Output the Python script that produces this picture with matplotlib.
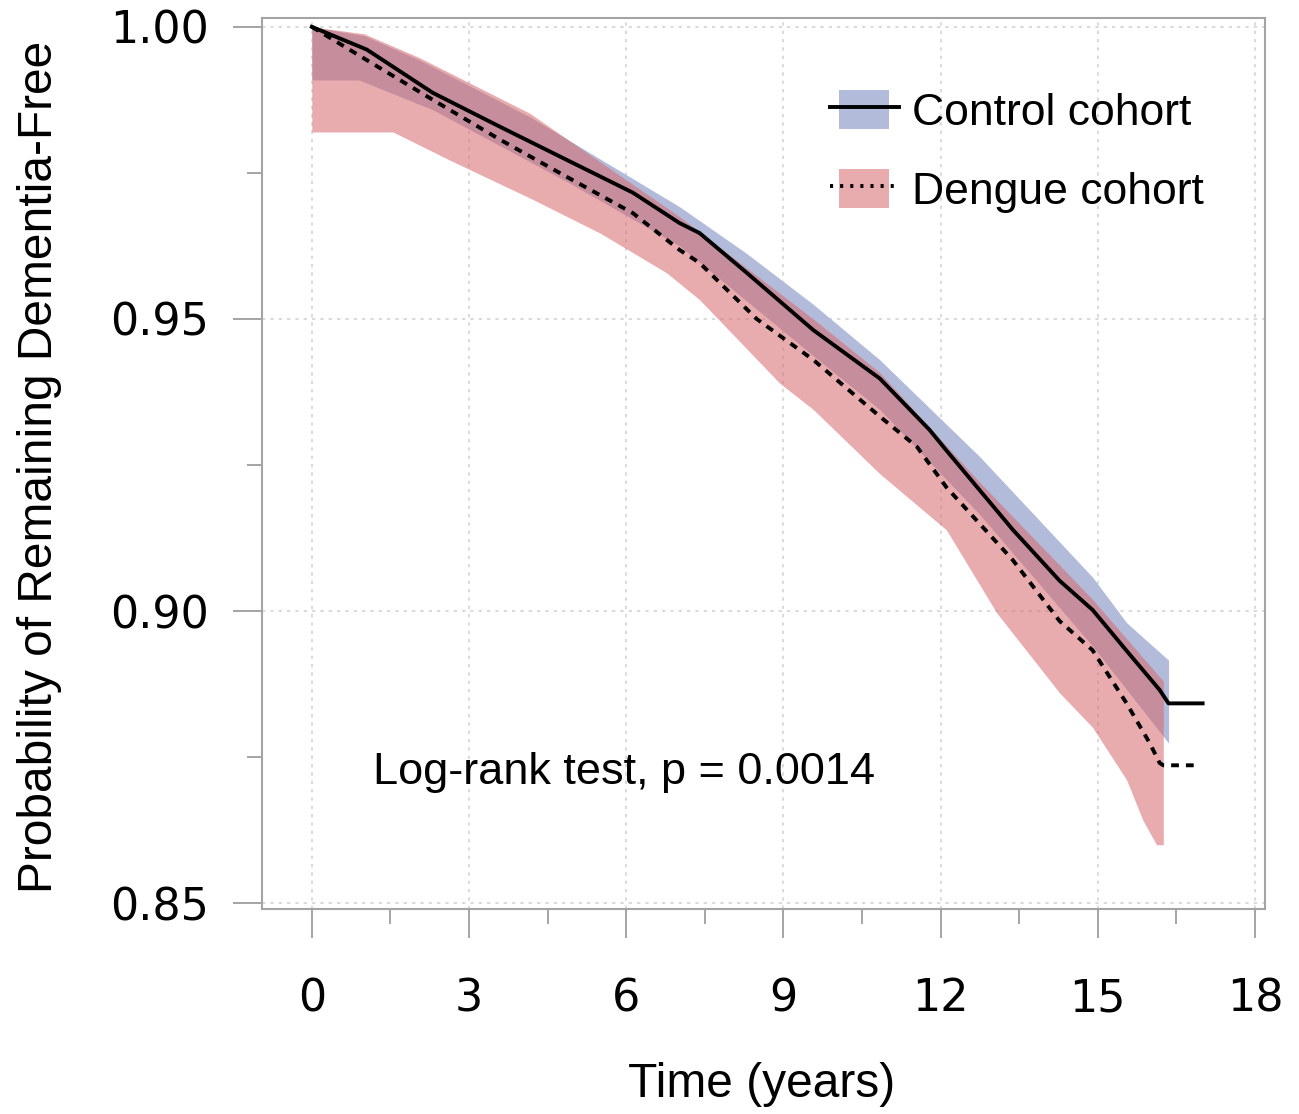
import matplotlib
matplotlib.use("Agg")
import numpy as np
import matplotlib.pyplot as plt
from matplotlib.ticker import MultipleLocator, FixedLocator
from matplotlib.patches import Patch, Rectangle
from matplotlib.lines import Line2D
from matplotlib.legend_handler import HandlerPatch, HandlerTuple

# Kaplan-Meier estimates
ctrl_t = [0, 1.05, 2.31, 3.59, 4.87, 6.13, 7.02, 7.40, 8.30, 9.57, 10.84,
          11.79, 12.11, 13.38, 14.27, 14.9, 15.55, 16.18, 16.35, 17.0]
ctrl_s = [1.0, 0.9961, 0.9887, 0.9829, 0.9772, 0.9716, 0.9664, 0.9647, 0.9579,
          0.9481, 0.9398, 0.931, 0.9275, 0.9139, 0.9052, 0.9002, 0.8932, 0.8865,
          0.8842, 0.8842]

deng_t = [0, 1.05, 2.31, 3.59, 4.87, 6.13, 7.02, 7.40, 8.49, 9.57, 10.84,
          11.55, 12.11, 13.38, 14.27, 14.9, 15.55, 15.99, 16.18, 16.25, 16.85]
deng_s = [1.0, 0.9943, 0.9875, 0.9807, 0.9743, 0.9681, 0.9618, 0.9596, 0.95,
          0.943, 0.9333, 0.9281, 0.9212, 0.9087, 0.8983, 0.8933, 0.8842, 0.8774,
          0.874, 0.8736, 0.8736]

# 95% confidence bands
ctrl_up_t = [0, 1.0, 2.06, 4.16, 7.02, 8.30, 9.57, 10.84, 12.75, 14.9, 15.55, 16.35]
ctrl_up = [1.0, 0.9985, 0.9943, 0.9846, 0.9692, 0.9612, 0.9525, 0.943, 0.9264,
           0.9058, 0.898, 0.8916]
ctrl_lo_t = [0, 0.9, 2.31, 4.87, 7.02, 9.57, 10.84, 12.75, 14.9, 16.35]
ctrl_lo = [0.9909, 0.9909, 0.9858, 0.9735, 0.9625, 0.9437, 0.9345, 0.9165, 0.894, 0.8774]

deng_up_t = [0, 1.0, 2.06, 4.16, 7.02, 9.57, 10.84, 12.75, 14.9, 16.25]
deng_up = [1.0, 0.9988, 0.9947, 0.9852, 0.9675, 0.9500, 0.9408, 0.922, 0.902, 0.888]
deng_lo_t = [0, 1.55, 2.63, 4.23, 5.5, 6.77, 7.40, 8.93, 9.57, 10.84, 12.11,
             13.07, 14.27, 14.9, 15.55, 15.86, 16.12, 16.25]
deng_lo = [0.982, 0.982, 0.9772, 0.9704, 0.9647, 0.9579, 0.9533, 0.939, 0.9345,
           0.9235, 0.9139, 0.8997, 0.886, 0.8801, 0.8711, 0.8642, 0.860, 0.860]

labels = ["Control cohort", "Dengue cohort"]
x_ticks = [0, 3, 6, 9, 12, 15, 18]
y_ticks = [0.85, 0.90, 0.95, 1.00]

BLUE = "#b2bcda"
PINK = (215 / 255, 104 / 255, 108 / 255)
GRAY = "#a4a4a4"


def merge(ta, a, tb, b):
    # common time grid for lower/upper bound
    t = np.union1d(ta, tb)
    t = t[t <= min(ta[-1], tb[-1])]
    return t, np.interp(t, ta, a), np.interp(t, tb, b)


fig = plt.figure(figsize=(12.99, 11.14), dpi=100)
ax = fig.add_axes([0.2017, 0.1840, 0.9738 - 0.2017, 0.9838 - 0.1840])

t, lo, up = merge(ctrl_lo_t, ctrl_lo, ctrl_up_t, ctrl_up)
ax.fill_between(t, lo, up, color=BLUE, lw=0, zorder=2)
t, lo, up = merge(deng_lo_t, deng_lo, deng_up_t, deng_up)
ax.fill_between(t, lo, up, color=PINK, alpha=0.55, lw=0, zorder=3)

ax.plot(ctrl_t, ctrl_s, color="black", lw=2.8, zorder=5)
ax.plot(deng_t, deng_s, color="black", lw=2.8, ls=(0, (2.0, 1.8)), zorder=5)

ax.set_xlim(-0.95, 18.19)
ax.set_ylim(0.849, 1.0015)
ax.xaxis.set_major_locator(FixedLocator(x_ticks))
ax.xaxis.set_minor_locator(MultipleLocator(1.5))
ax.yaxis.set_major_locator(FixedLocator(y_ticks))
ax.yaxis.set_minor_locator(MultipleLocator(0.025))
ax.set_xticklabels([str(v) for v in x_ticks])
ax.set_yticklabels([f"{v:.2f}" for v in y_ticks])

ax.grid(which="major", ls=(0, (2, 3)), color="#d4d4d4", lw=1.2, zorder=0)
ax.set_axisbelow(True)
for s in ax.spines.values():
    s.set_color(GRAY)
    s.set_linewidth(1.5)
ax.tick_params(which="major", direction="out", length=21, width=1.4, color=GRAY,
               labelsize=32, labelfontfamily="DejaVu Sans")
ax.tick_params(which="minor", direction="out", length=11, width=1.4, color=GRAY)
ax.tick_params(axis="x", which="major", pad=28)
ax.tick_params(axis="y", which="major", pad=17)

ax.set_xlabel("Time (years)", fontsize=34.5, family="Liberation Sans")
ax.set_ylabel("Probability of Remaining Dementia-Free", fontsize=34.5,
              family="Liberation Sans")
ax.xaxis.set_label_coords(0.4985, -0.172)
ax.yaxis.set_label_coords(-0.199, 0.496)

ax.text(1.16, 0.8723, "Log-rank test, p = 0.0014", fontsize=32.5,
        family="Liberation Sans", va="center", ha="left")


def _patch(legend, orig_handle, xdescent, ydescent, width, height, fontsize):
    return Rectangle((-xdescent + 0.14 * width, -ydescent), 0.72 * width, height)


h_ctrl = (Patch(facecolor=BLUE, lw=0), Line2D([], [], color="black", lw=2.8))
h_deng = (Patch(facecolor=PINK, alpha=0.55, lw=0),
          Line2D([], [], color="black", lw=2.8, ls=(0, (0.8, 1.8))))
ax.legend([h_ctrl, h_deng], labels, loc="upper left", bbox_to_anchor=(0.566, 0.919),
          frameon=False, borderpad=0, borderaxespad=0, handlelength=1.55,
          handleheight=0.95, handletextpad=0.3, labelspacing=0.8,
          prop={"family": "Liberation Sans", "size": 32},
          handler_map={tuple: HandlerTuple(ndivide=1),
                       Patch: HandlerPatch(patch_func=_patch)})

fig.savefig("out.png", dpi=100)
